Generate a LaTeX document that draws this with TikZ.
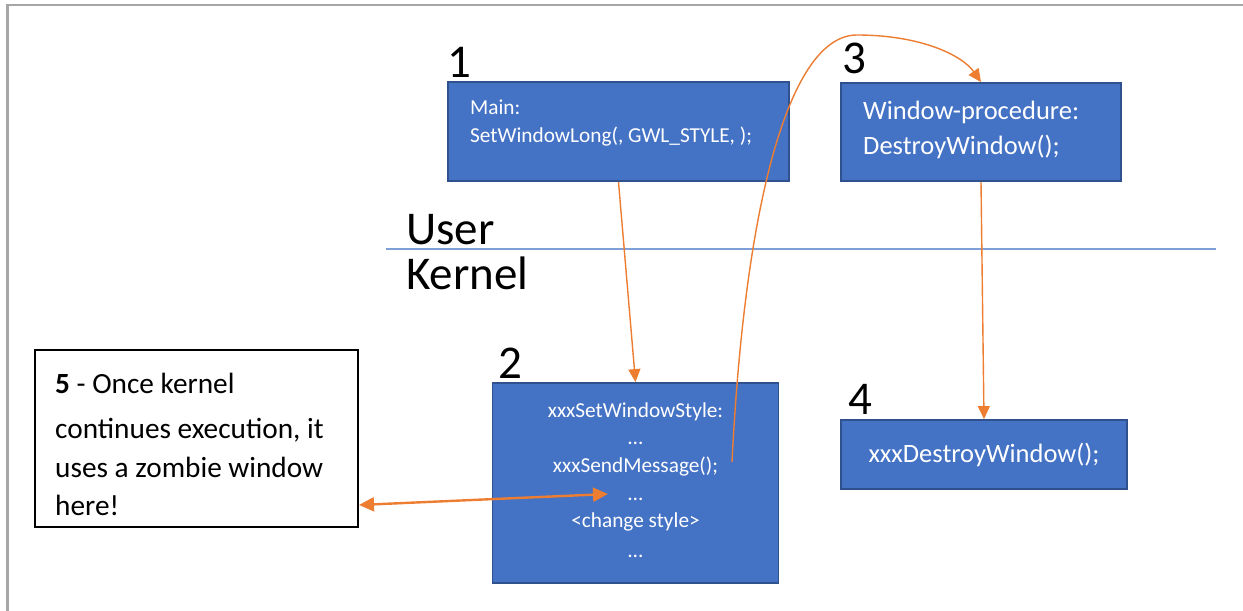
\documentclass[tikz,border=0pt]{standalone}
\usepackage{fontspec}
\setmainfont{Carlito}
\usetikzlibrary{arrows.meta}

\definecolor{boxfill}{HTML}{4472C4}
\definecolor{boxline}{HTML}{2F528F}
\definecolor{flow}{HTML}{ED7D31}
\definecolor{frameg}{HTML}{A6A6A6}
\definecolor{divider}{HTML}{7F9FD8}

\begin{document}
\begin{tikzpicture}[x=1bp, y=-1bp,
  blockbox/.style={draw=boxline, fill=boxfill, line width=1.8bp, rectangle, inner sep=0pt},
  notebox/.style={draw=black, fill=white, line width=2bp, rectangle, inner sep=0pt},
  wsmall/.style={text=white, inner sep=0pt, font=\fontsize{21.3bp}{25bp}\selectfont},
  wlarge/.style={text=white, inner sep=0pt, font=\fontsize{26.5bp}{31bp}\selectfont},
  btext/.style={text=black, inner sep=0pt, font=\fontsize{29.3bp}{35bp}\selectfont},
  bignum/.style={text=black, inner sep=0pt, font=\fontsize{47bp}{56bp}\selectfont},
  thinflow/.style={draw=flow, line width=1.4bp, -{Triangle[length=13bp,width=12bp]}},
  thickflow/.style={draw=flow, line width=2.4bp, {Triangle[length=15bp,width=14bp]}-{Triangle[length=15bp,width=14bp]}}
]
\useasboundingbox (0,0) rectangle (1243,611);

% page frame
\draw[frameg, line width=2.5bp] (7.5,611) -- (7.5,5) -- (1243,5);

% user / kernel divider
\draw[divider, line width=2bp] (386,249.5) -- (1216,249.5);
\node[bignum, anchor=base west] (user) at (406,245) {User};
\node[bignum, anchor=base west] (kernel) at (406,290) {Kernel};

% step boxes
\node[blockbox, minimum width=341bp, minimum height=99bp] (b1) at (618.5,131.5) {};
\node[blockbox, minimum width=280bp, minimum height=98bp] (b3) at (981,132) {};
\node[blockbox, minimum width=286bp, minimum height=200bp] (b2) at (635.5,483) {};
\node[blockbox, minimum width=286bp, minimum height=69bp] (b4) at (984,454.5) {};
\node[notebox, minimum width=323bp, minimum height=177bp] (b5) at (196.5,438.5) {};

% step numbers
\node[bignum, anchor=base west] (n1) at (447,78) {1};
\node[bignum, anchor=base west] (n3) at (842,74) {3};
\node[bignum, anchor=base west] (n2) at (498,378) {2};
\node[bignum, anchor=base west] (n4) at (848,414) {4};

% box 1
\node[wsmall, anchor=base west] (t1a) at (470,115) {Main:};
\node[wsmall, anchor=base west] (t1b) at (470,143) {SetWindowLong(, GWL\_STYLE, );};

% box 3
\node[wlarge, anchor=base west] (t3a) at (863,120) {Window-procedure:};
\node[wlarge, anchor=base west] (t3b) at (863,155) {DestroyWindow();};

% box 2
\node[wsmall, anchor=base] (t2a) at (635.5,417) {xxxSetWindowStyle:};
\node[wsmall, anchor=base] (t2b) at (635.5,444) {…};
\node[wsmall, anchor=base] (t2c) at (635.5,472) {xxxSendMessage();};
\node[wsmall, anchor=base] (t2d) at (635.5,500) {…};
\node[wsmall, anchor=base] (t2e) at (635.5,527) {<change style>};
\node[wsmall, anchor=base] (t2f) at (635.5,557) {…};

% box 4
\node[wlarge, anchor=base] (t4) at (984,462) {xxxDestroyWindow();};

% note 5
\node[btext, anchor=base west] (t5a) at (55,393) {\textbf{5} - Once kernel};
\node[btext, anchor=base west] (t5b) at (55,438) {continues execution, it};
\node[btext, anchor=base west] (t5c) at (55,477) {uses a zombie window};
\node[btext, anchor=base west] (t5d) at (55,515) {here!};

% call flow
\draw[thinflow] (b1.south) -- (b2.north);
\draw[thinflow] (b3.south) -- (b4.north);

\coordinate (sendpt) at (732,462);
\coordinate (peak) at (857,35);
\draw[thinflow] (sendpt) .. controls (745,200) and (790,35) .. (peak)
  .. controls (920,35) and (962,55) .. (b3.north);

\coordinate (zleft) at (359,505);
\coordinate (zright) at (608,494);
\draw[thickflow] (zleft) -- (zright);
\end{tikzpicture}
\end{document}
